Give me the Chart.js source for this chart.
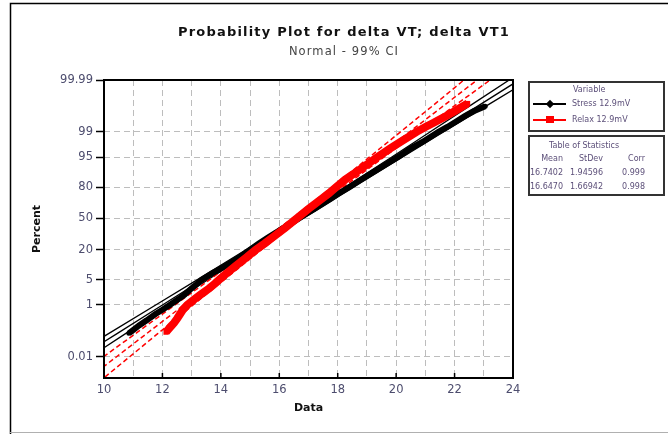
<!doctype html>
<html>
<head>
<meta charset="utf-8">
<title>Probability Plot for delta VT; delta VT1</title>
<script src="https://cdn.jsdelivr.net/npm/chart.js"></script>
<style>
  html, body { margin: 0; padding: 0; background: #fff; }
  #wrap { position: relative; width: 668px; height: 434px; overflow: hidden; }
  #chart { position: absolute; left: 0; top: 0; }
  .abs { position: absolute; white-space: nowrap; }
  #title { left: 0; width: 688px; top: 24px; text-align: center; font: bold 13px/15px "DejaVu Sans"; letter-spacing: 1.2px; color: #111; }
  #sub { left: 0; width: 688px; top: 44px; text-align: center; font: 11.5px/14px "DejaVu Sans"; letter-spacing: 1.1px; color: #444; }
  .box { position: absolute; box-sizing: border-box; border: 2px solid #333; background: #fff; }
  .lg { font: 8px/10px "DejaVu Sans"; color: #5c4f79; }
</style>
</head>
<body>
<div id="wrap">
  <canvas id="chart" width="668" height="434"></canvas>
  <div id="title" class="abs">Probability Plot for delta VT; delta VT1</div>
  <div id="sub" class="abs">Normal - 99% CI</div>
  <div class="box" style="left:528px;top:81px;width:137px;height:51px"></div>
  <div class="box" style="left:528px;top:135px;width:137px;height:61px"></div>
  <div id="legend"></div>
</div>
<script>
// percent scale ticks
const yTickLabels = ['0.01', '1', '5', '20', '50', '80', '95', '99', '99.99'];

// series names and table of statistics
const seriesNames = ['Stress 12.9mV', 'Relax 12.9mV'];
const statMean = ['16.7402', '16.6470'];
const statStDev = ['1.94596', '1.66942'];
const statCorr = ['0.999', '0.998'];

// plotted points (percent, data)
const stressPct = [0.1, 0.15, 0.2, 0.3, 0.5, 0.7, 1, 1.5, 2, 3, 4, 5, 7, 10, 15, 20, 25, 30, 40, 50,
  60, 70, 75, 80, 85, 90, 93, 95, 97, 98, 99, 99.3, 99.5, 99.7, 99.8, 99.87];
const stressX = [10.85, 11.05, 11.2, 11.45, 11.75, 12.0, 12.25, 12.55, 12.75, 13.0, 13.2, 13.35, 13.7, 14.15, 14.65, 15.0, 15.3, 15.6, 16.15, 16.65,
  17.2, 17.75, 18.05, 18.4, 18.8, 19.3, 19.7, 20.05, 20.5, 20.9, 21.45, 21.75, 22.0, 22.35, 22.65, 23.05];
const relaxPct = [0.11, 0.18, 0.25, 0.35, 0.5, 0.7, 1, 1.5, 2, 3, 4, 5, 7, 10, 15, 20, 25, 30, 40, 50,
  60, 70, 75, 80, 85, 90, 93, 95, 97, 98, 99, 99.3, 99.5, 99.7, 99.8, 99.9];
const relaxX = [12.12, 12.28, 12.4, 12.5, 12.6, 12.7, 12.85, 13.1, 13.3, 13.6, 13.8, 13.95, 14.2, 14.5, 14.9, 15.2, 15.5, 15.75, 16.2, 16.6,
  17.0, 17.45, 17.7, 17.95, 18.25, 18.7, 19.05, 19.35, 19.8, 20.15, 20.7, 21.0, 21.3, 21.7, 22.0, 22.45];

// fitted line and 99% CI bands, read at these percents
const ciPct = [0.001, 0.01, 0.1, 1, 5, 20, 50, 80, 95, 99, 99.9, 99.99];
const stressFit = [8.08, 9.19, 10.46, 12.00, 13.38, 15.00, 16.70, 18.40, 20.02, 21.40, 22.94, 24.21];
const stressLo = [7.70, 8.85, 10.17, 11.77, 13.20, 14.86, 16.58, 18.26, 19.84, 21.17, 22.65, 23.87];
const stressHi = [8.46, 9.53, 10.75, 12.23, 13.57, 15.14, 16.82, 18.54, 20.21, 21.63, 23.23, 24.55];
const relaxFit = [9.52, 10.43, 11.47, 12.74, 13.87, 15.20, 16.60, 18.00, 19.33, 20.46, 21.73, 22.77];
const relaxLo = [9.01, 9.98, 11.09, 12.43, 13.62, 15.01, 16.44, 17.81, 19.08, 20.15, 21.35, 22.32];
const relaxHi = [10.03, 10.88, 11.85, 13.05, 14.12, 15.39, 16.76, 18.19, 19.58, 20.77, 22.11, 23.22];

// inverse normal cdf, used as the probability scale
function probit(p) {
  const a = [-39.69683028665376, 220.9460984245205, -275.9285104469687, 138.3577518672690, -30.66479806614716, 2.506628277459239];
  const b = [-54.47609879822406, 161.5858368580409, -155.6989798598866, 66.80131188771972, -13.28068155288572];
  const c = [-0.007784894002430293, -0.3223964580411365, -2.400758277161838, -2.549671348193307, 4.374664141464968, 2.938163982698783];
  const d = [0.007784695709041462, 0.3224671290700398, 2.445134137142996, 3.754408661907416];
  const pl = 0.02425;
  let q, r;
  if (p < pl) {
    q = Math.sqrt(-2 * Math.log(p));
    return (((((c[0]*q+c[1])*q+c[2])*q+c[3])*q+c[4])*q+c[5]) / ((((d[0]*q+d[1])*q+d[2])*q+d[3])*q+1);
  }
  if (p <= 1 - pl) {
    q = p - 0.5; r = q * q;
    return (((((a[0]*r+a[1])*r+a[2])*r+a[3])*r+a[4])*r+a[5])*q / (((((b[0]*r+b[1])*r+b[2])*r+b[3])*r+b[4])*r+1);
  }
  q = Math.sqrt(-2 * Math.log(1 - p));
  return -(((((c[0]*q+c[1])*q+c[2])*q+c[3])*q+c[4])*q+c[5]) / ((((d[0]*q+d[1])*q+d[2])*q+d[3])*q+1);
}
const pts = (xs, pcts) => xs.map((x, i) => ({ x: x, y: probit(pcts[i] / 100) }));

function lineSet(xs, color, width, dash, order) {
  return { data: pts(xs, ciPct), showLine: true, borderColor: color, borderWidth: width, borderDash: dash,
    pointRadius: 0, tension: 0, order: order, clip: 0 };
}

const tickFont = { family: 'DejaVu Sans', size: 11.5 };
const tickColor = '#4d4d6e';
const titleFont = { family: 'DejaVu Sans', size: 11, weight: 'bold' };

const frame = {
  id: 'frame',
  beforeDraw(chart) {
    const ctx = chart.ctx;
    ctx.save();
    ctx.strokeStyle = '#000';
    ctx.lineWidth = 1.5;
    ctx.beginPath(); ctx.moveTo(10.5, 434); ctx.lineTo(10.5, 3.5); ctx.lineTo(668, 3.5); ctx.stroke();
    ctx.strokeStyle = '#b0b0b0';
    ctx.lineWidth = 1;
    ctx.beginPath(); ctx.moveTo(10, 432.5); ctx.lineTo(668, 432.5); ctx.stroke();
    ctx.restore();
  },
  afterDatasetsDraw(chart) {
    const ctx = chart.ctx, a = chart.chartArea, x = chart.scales.x;
    ctx.save();
    ctx.strokeStyle = '#000';
    ctx.lineWidth = 1.5;
    x.ticks.forEach(t => {
      if (t.value % 2 === 0) {
        const px = x.getPixelForValue(t.value);
        ctx.beginPath(); ctx.moveTo(px, a.bottom); ctx.lineTo(px, a.bottom - 5); ctx.stroke();
      }
    });
    ctx.lineWidth = 2;
    ctx.strokeRect(a.left, a.top, a.right - a.left, a.bottom - a.top);
    ctx.restore();
  }
};

new Chart(document.getElementById('chart'), {
  type: 'scatter',
  data: {
    datasets: [
      { label: seriesNames[1], data: pts(relaxX, relaxPct), showLine: true, borderColor: '#ff0000', borderWidth: 8,
        backgroundColor: '#ff0000', pointStyle: 'rect', pointRadius: 3.5, pointBorderWidth: 0, tension: 0, order: 0 },
      { label: seriesNames[0], data: pts(stressX, stressPct), showLine: true, borderColor: '#000', borderWidth: 6,
        backgroundColor: '#000', pointStyle: 'circle', pointRadius: 2.5, pointBorderWidth: 0, tension: 0, order: 1 },
      lineSet(relaxFit, '#ff0000', 1.5, [5, 3], 2),
      lineSet(relaxLo, '#ff0000', 1.5, [5, 3], 2),
      lineSet(relaxHi, '#ff0000', 1.5, [5, 3], 2),
      lineSet(stressFit, '#000', 1.3, [], 3),
      lineSet(stressLo, '#000', 1.3, [], 3),
      lineSet(stressHi, '#000', 1.3, [], 3)
    ]
  },
  options: {
    responsive: false,
    animation: false,
    layout: { padding: { left: 31, right: 155, top: 80, bottom: 19 } },
    plugins: { legend: { display: false }, tooltip: { enabled: false } },
    scales: {
      x: {
        type: 'linear', min: 10, max: 24,
        afterFit: s => { s.height = 37; },
        ticks: { stepSize: 1, autoSkip: false, maxRotation: 0, padding: 5, font: tickFont, color: tickColor,
          callback: v => (v % 2 === 0 ? String(v) : '') },
        grid: { color: '#bdbdbd', lineWidth: 1, drawTicks: false },
        border: { display: false, dash: [6, 4] },
        title: { display: true, text: 'Data', font: titleFont, color: '#111', padding: 0 }
      },
      y: {
        type: 'linear', min: -4.29, max: probit(0.9999),
        afterFit: s => { s.width = 73; },
        afterBuildTicks: s => { s.ticks = yTickLabels.map(p => ({ value: probit(parseFloat(p) / 100) })); },
        ticks: { autoSkip: false, padding: 3, font: tickFont, color: tickColor,
          callback: (v, i) => yTickLabels[i] },
        grid: { color: '#bdbdbd', lineWidth: 1, tickColor: '#000', tickWidth: 1.5, tickLength: 8, tickBorderDash: [] },
        border: { display: false, dash: [6, 4] },
        title: { display: true, text: 'Percent', font: titleFont, color: '#111', padding: 0 }
      }
    }
  },
  plugins: [frame]
});

// legend and table of statistics
const lg = document.getElementById('legend');
function txt(s, left, top, right) {
  const el = document.createElement('div');
  el.className = 'abs lg';
  el.textContent = s;
  el.style.top = top + 'px';
  if (right !== undefined) el.style.right = (668 - right) + 'px';
  else el.style.left = left + 'px';
  lg.appendChild(el);
}
function shape(left, top, w, h, color, rot) {
  const el = document.createElement('div');
  el.className = 'abs';
  el.style.cssText += 'left:' + left + 'px;top:' + top + 'px;width:' + w + 'px;height:' + h + 'px;background:' + color +
    (rot ? ';transform:rotate(45deg)' : '');
  lg.appendChild(el);
}
txt('Variable', 573, 85);
shape(533, 103, 33, 2, '#000');
shape(547, 101, 6, 6, '#000', true);
txt(seriesNames[0], 572, 99);
shape(533, 119, 33, 2, '#ff0000');
shape(546, 116, 8, 7, '#ff0000');
txt(seriesNames[1], 572, 115);
txt('Table of Statistics', 549, 141);
txt('Mean', 0, 154, 563);
txt('StDev', 0, 154, 603);
txt('Corr', 0, 154, 645);
for (let i = 0; i < statMean.length; i++) {
  txt(statMean[i], 0, 168 + i * 14, 563);
  txt(statStDev[i], 0, 168 + i * 14, 603);
  txt(statCorr[i], 0, 168 + i * 14, 645);
}
</script>
</body>
</html>
